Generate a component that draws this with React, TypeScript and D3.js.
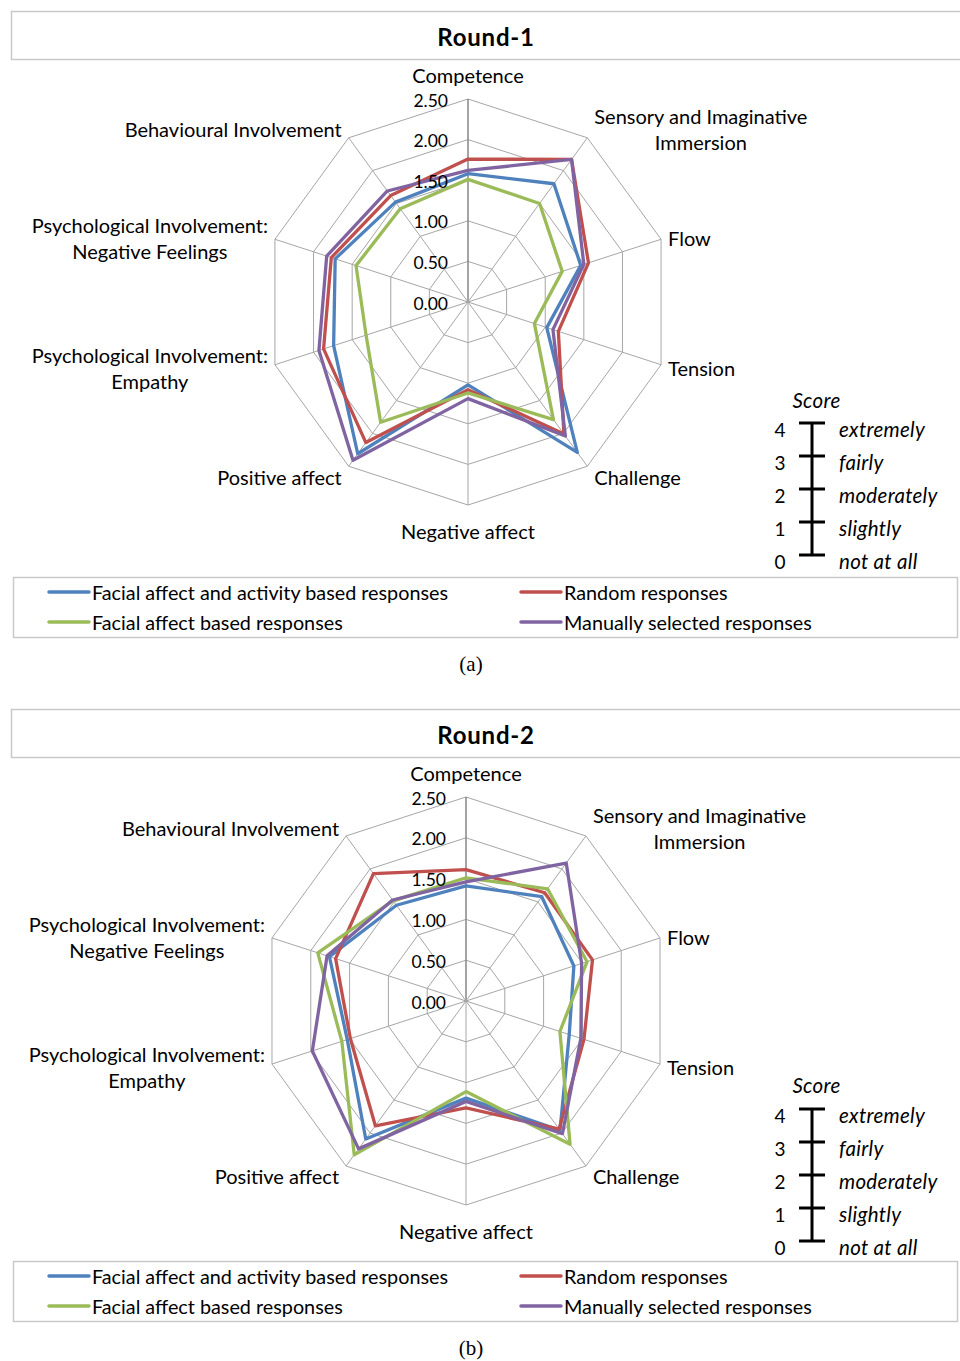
import React, { useEffect, useRef } from "react";
import * as d3 from "d3";

// ---------- data ----------
const axisLabelLines: string[][] = [
  ["Competence"],
  ["Sensory and Imaginative", "Immersion"],
  ["Flow"],
  ["Tension"],
  ["Challenge"],
  ["Negative affect"],
  ["Positive affect"],
  ["Psychological Involvement:", "Empathy"],
  ["Psychological Involvement:", "Negative Feelings"],
  ["Behavioural Involvement"],
];

const seriesNames = [
  "Facial affect and activity based responses",
  "Random responses",
  "Facial affect based responses",
  "Manually selected responses",
];
const seriesColors = ["#4F81BD", "#C0504D", "#9BBB59", "#8064A2"];

// order: Competence, Sensory, Flow, Tension, Challenge, Neg affect, Pos affect, Empathy, Neg feelings, Behavioural
const r1Activity = [1.58, 1.8, 1.46, 1.02, 2.29, 1.02, 2.31, 1.74, 1.72, 1.52];
const r1Random = [1.76, 2.17, 1.56, 1.17, 2.01, 1.08, 2.14, 1.87, 1.77, 1.62];
const r1Facial = [1.51, 1.5, 1.22, 0.86, 1.79, 1.12, 1.83, 1.32, 1.45, 1.42];
const r1Manual = [1.62, 2.17, 1.5, 1.1, 2.04, 1.19, 2.41, 1.93, 1.83, 1.69];

const r2Activity = [1.41, 1.58, 1.39, 1.33, 1.96, 1.19, 2.09, 1.53, 1.76, 1.45];
const r2Random = [1.61, 1.64, 1.63, 1.52, 1.94, 1.31, 1.89, 1.49, 1.68, 1.93];
const r2Facial = [1.51, 1.7, 1.56, 1.21, 2.17, 1.11, 2.33, 1.6, 1.91, 1.52];
const r2Manual = [1.46, 2.09, 1.49, 1.48, 2.01, 1.23, 2.24, 1.98, 1.79, 1.53];

const tickValues = [0, 0.5, 1, 1.5, 2, 2.5];
const scoreLevels = [0, 1, 2, 3, 4];
const scoreWords = ["not at all", "slightly", "moderately", "fairly", "extremely"];

const FONT = "Lato, 'Open Sans', sans-serif";

export default function App() {
  const ref = useRef<SVGSVGElement>(null);

  useEffect(() => {
    const svg = d3.select(ref.current);
    svg.selectAll("*").remove();

    const panels = [
      {
        title: "Round-1", caption: "(a)",
        series: [r1Activity, r1Random, r1Facial, r1Manual],
        cx: 468, cy: 302, R: 203, titleTop: 11,
        legendTop: 577, scoreLabelY: 400, scoreTopY: 423, captionY: 664,
      },
      {
        title: "Round-2", caption: "(b)",
        series: [r2Activity, r2Random, r2Facial, r2Manual],
        cx: 466, cy: 1001, R: 204, titleTop: 709,
        legendTop: 1261, scoreLabelY: 1085, scoreTopY: 1109, captionY: 1348,
      },
    ];

    const n = axisLabelLines.length;
    const angle = (i: number) => (i * 2 * Math.PI) / n;

    panels.forEach((p) => {
      const g = svg.append("g");

      // title box
      g.append("rect")
        .attr("x", 11.5).attr("y", p.titleTop + 0.5)
        .attr("width", 960).attr("height", 48)
        .attr("fill", "#fff").attr("stroke", "#c9c9c9").attr("stroke-width", 1.5);
      g.append("text")
        .attr("x", 486).attr("y", p.titleTop + 25)
        .attr("text-anchor", "middle").attr("dominant-baseline", "central")
        .attr("font-family", FONT).attr("font-weight", "bold").attr("font-size", 24)
        .attr("letter-spacing", 0.8)
        .attr("fill", "#000").text(p.title);

      const r = d3.scaleLinear().domain([0, 2.5]).range([0, p.R]);
      const pt = (i: number, v: number): [number, number] => [
        p.cx + r(v) * Math.sin(angle(i)),
        p.cy - r(v) * Math.cos(angle(i)),
      ];

      const grid = g.append("g");
      tickValues.slice(1).forEach((v) => {
        const pts = d3.range(n).map((i) => pt(i, v));
        grid.append("path")
          .attr("d", d3.line().curve(d3.curveLinearClosed)(pts))
          .attr("fill", "none").attr("stroke", "#a6a6a6").attr("stroke-width", 1);
      });
      d3.range(n).forEach((i) => {
        const [x, y] = pt(i, 2.5);
        grid.append("line")
          .attr("x1", p.cx).attr("y1", p.cy).attr("x2", x).attr("y2", y)
          .attr("stroke", i === 0 ? "#868686" : "#a6a6a6")
          .attr("stroke-width", i === 0 ? 1.5 : 1);
      });

      // series
      const radial = d3.lineRadial<number>()
        .angle((_, i) => angle(i))
        .radius((d) => r(d))
        .curve(d3.curveLinearClosed);
      p.series.forEach((vals, si) => {
        g.append("path")
          .attr("transform", `translate(${p.cx},${p.cy})`)
          .attr("d", radial(vals))
          .attr("fill", "none")
          .attr("stroke", seriesColors[si])
          .attr("stroke-width", 3.3)
          .attr("stroke-linejoin", "round");
      });

      // tick labels
      tickValues.forEach((v) => {
        g.append("text")
          .attr("x", p.cx - 20).attr("y", p.cy - r(v) + 1)
          .attr("text-anchor", "end").attr("dominant-baseline", "central")
          .attr("font-family", FONT).attr("font-size", 17.5).attr("fill", "#000")
          .text(v.toFixed(2));
      });

      // axis labels
      axisLabelLines.forEach((lines, i) => {
        const a = angle(i);
        const s = Math.sin(a), c = Math.cos(a);
        const [vx, vy] = pt(i, 2.5);
        const dy = -25 * Math.pow(c, 5) + 1 - 8 * c * Math.pow(1 - c * c, 2);
        const lh = 26;
        const t = g.append("text")
          .attr("font-family", FONT).attr("font-size", 20).attr("fill", "#000")
          .attr("text-anchor", "middle").attr("dominant-baseline", "central");
        const spans = lines.map((ln, k) =>
          t.append("tspan")
            .attr("y", vy + dy + (k - (lines.length - 1) / 2) * lh)
            .text(ln)
        );
        const w = d3.max(spans.map((sp) => (sp.node() as SVGTSpanElement).getComputedTextLength())) || 0;
        let cxText = vx;
        if (s > 0.1) cxText = vx + 7 + w / 2;
        else if (s < -0.1) cxText = vx - 7 - w / 2;
        spans.forEach((sp) => sp.attr("x", cxText));
      });

      // score scale
      const sy = d3.scaleLinear().domain([4, 0]).range([p.scoreTopY, p.scoreTopY + 132]);
      const sg = g.append("g");
      sg.append("text")
        .attr("x", 816.5).attr("y", p.scoreLabelY)
        .attr("text-anchor", "middle").attr("dominant-baseline", "central")
        .attr("font-family", FONT).attr("font-style", "italic").attr("font-size", 20.5)
        .attr("letter-spacing", 0.3)
        .text("Score");
      sg.append("line")
        .attr("x1", 812).attr("x2", 812).attr("y1", sy(4)).attr("y2", sy(0))
        .attr("stroke", "#000").attr("stroke-width", 3);
      scoreLevels.forEach((lv) => {
        sg.append("line")
          .attr("x1", 799).attr("x2", 825).attr("y1", sy(lv)).attr("y2", sy(lv))
          .attr("stroke", "#000").attr("stroke-width", 3);
        sg.append("text")
          .attr("x", 780).attr("y", sy(lv) + 6)
          .attr("text-anchor", "middle").attr("dominant-baseline", "central")
          .attr("font-family", FONT).attr("font-size", 19).text(String(lv));
        sg.append("text")
          .attr("x", 839).attr("y", sy(lv) + 6)
          .attr("text-anchor", "start").attr("dominant-baseline", "central")
          .attr("font-family", FONT).attr("font-style", "italic").attr("font-size", 20.5)
          .attr("letter-spacing", 0.3)
          .text(scoreWords[lv]);
      });

      // legend
      const lg = g.append("g");
      lg.append("rect")
        .attr("x", 13.5).attr("y", p.legendTop + 0.5)
        .attr("width", 944).attr("height", 60)
        .attr("fill", "#fff").attr("stroke", "#c9c9c9").attr("stroke-width", 1.5);
      seriesNames.forEach((name, si) => {
        const col = si % 2, row = Math.floor(si / 2);
        const x0 = col === 0 ? 49 : 521;
        const y0 = p.legendTop + 15 + row * 30;
        lg.append("line")
          .attr("x1", x0).attr("x2", x0 + 40).attr("y1", y0).attr("y2", y0)
          .attr("stroke", seriesColors[si]).attr("stroke-width", 3.5)
          .attr("stroke-linecap", "round");
        lg.append("text")
          .attr("x", x0 + 43).attr("y", y0)
          .attr("dominant-baseline", "central")
          .attr("font-family", FONT).attr("font-size", 19.8).text(name);
      });

      // caption
      g.append("text")
        .attr("x", 471).attr("y", p.captionY)
        .attr("text-anchor", "middle").attr("dominant-baseline", "central")
        .attr("font-family", "'Liberation Serif', serif").attr("font-size", 21)
        .text(p.caption);
    });
  }, []);

  return (
    <svg
      ref={ref}
      width={960}
      height={1361}
      style={{ position: "absolute", left: 0, top: 0, background: "#fff" }}
    />
  );
}
